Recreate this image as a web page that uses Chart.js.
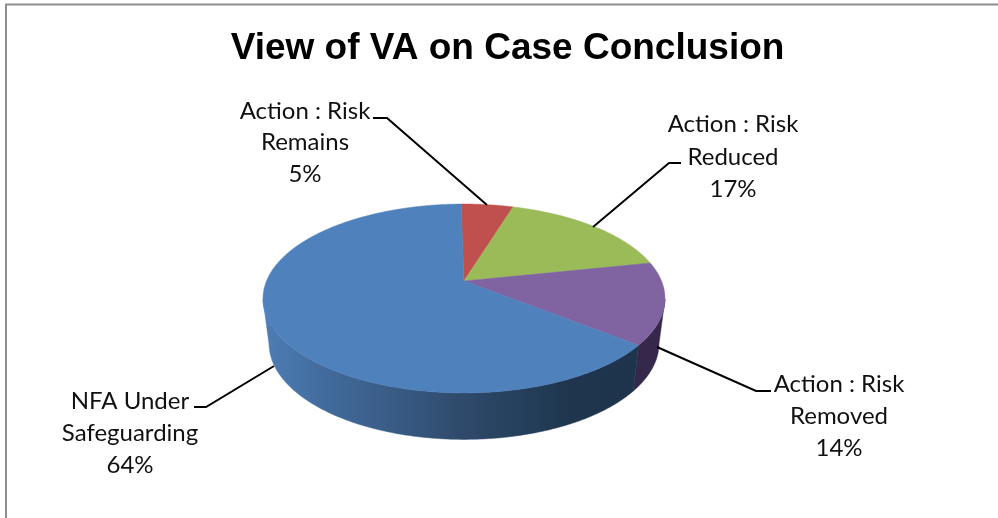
<!DOCTYPE html>
<html>
<head>
<meta charset="utf-8">
<title>View of VA on Case Conclusion</title>
<script src="https://cdn.jsdelivr.net/npm/chart.js@4"></script>
<style>html,body{margin:0;padding:0;background:#fff}canvas{display:block}</style>
</head>
<body>
<canvas id="c" width="998" height="518"></canvas>
<script>
const titleText = 'View of VA on Case Conclusion';
const categories = ['Action : Risk Remains', 'Action : Risk Reduced', 'Action : Risk Removed', 'NFA Under Safeguarding'];
const values = [5, 17, 14, 64];
const colors = ['#c0504d', '#9bbb59', '#8064a2', '#4f81bd'];
const wallColors = ['#7a302e', '#5d7235', '#35284a', null];
const labelLines = [['Action : Risk', 'Remains'], ['Action : Risk', 'Reduced'], ['Action : Risk', 'Removed'], ['NFA Under', 'Safeguarding']];

// Presentation only: label anchors and leader lines
const labelPos = [
  {x: 305, ys: [111, 142, 174], leader: [[373,118],[387,118],[487,205]]},
  {x: 733, ys: [124, 157, 189], leader: [[681,163],[669,163],[593,227]]},
  {x: 839, ys: [384, 416, 448], leader: [[771,391],[756,391],[657,347]]},
  {x: 130, ys: [401, 433, 465], leader: [[194,407],[206,407],[274,366]]}
];
// Perspective of the tilted disc
const persp = {k: -0.185, yRatio: 0.4618, cy: 299, rx: 201, ry: 94.5, depthCy: 344, wallRx: 195, wallRy: 96};

function project(el, a) {
  const u = Math.cos(a), v = Math.sin(a), d = 1 + persp.k * v, R = el.outerRadius;
  return {x: el.x + R * u / d, y: el.y + R * persp.yRatio * v / d};
}
class Arc3D extends Chart.ArcElement {
  static id = 'arc3d';
  static defaults = {...Chart.ArcElement.defaults};
  static defaultRoutes = Chart.ArcElement.defaultRoutes;
  draw(ctx) {
    const step = Math.PI / 720;
    ctx.save();
    ctx.beginPath();
    ctx.moveTo(this.x, this.y);
    for (let a = this.startAngle; a < this.endAngle; a += step) {
      const p = project(this, a);
      ctx.lineTo(p.x, p.y);
    }
    const e = project(this, this.endAngle);
    ctx.lineTo(e.x, e.y);
    ctx.closePath();
    ctx.fillStyle = this.options.backgroundColor;
    ctx.fill();
    ctx.strokeStyle = this.options.backgroundColor;
    ctx.lineWidth = 0.5;
    ctx.stroke();
    ctx.restore();
  }
}
class Pie3D extends Chart.PieController {
  static id = 'pie3d';
  static defaults = {...Chart.PieController.defaults, dataElementType: 'arc3d'};
}
Chart.register(Arc3D, Pie3D);

const deco = {
  id: 'deco',
  beforeDraw(chart) {
    const c = chart.ctx;
    c.save();
    c.fillStyle = '#fff';
    c.fillRect(0, 0, chart.width, chart.height);
    c.strokeStyle = '#8e8e8e';
    c.lineWidth = 2;
    c.beginPath();
    c.moveTo(6, 518);
    c.lineTo(6, 4.5);
    c.lineTo(998, 4.5);
    c.stroke();
    c.restore();
  },
  beforeDatasetsDraw(chart) {
    const c = chart.ctx, els = chart.getDatasetMeta(0).data;
    const cx = els[0].x;
    const grad = c.createLinearGradient(265, 0, 634, 0);
    grad.addColorStop(0, '#4d7db4');
    grad.addColorStop(0.18, '#41699a');
    grad.addColorStop(0.37, '#375a82');
    grad.addColorStop(0.53, '#2f4a6b');
    grad.addColorStop(0.69, '#25405c');
    grad.addColorStop(0.83, '#1f354e');
    grad.addColorStop(1, '#1e344c');
    els.forEach((el, i) => {
      const top = [], bot = [];
      const n = 600;
      for (let j = 0; j <= n; j++) {
        const a = el.startAngle + (el.endAngle - el.startAngle) * j / n;
        const p = project(el, a);
        const ct = (p.x - cx) / persp.rx, st = (p.y - persp.cy) / persp.ry;
        if (st >= 0) {
          top.push(p);
          bot.push({x: cx + ct * persp.wallRx, y: persp.depthCy + st * persp.wallRy});
        }
      }
      if (!top.length) return;
      c.save();
      c.beginPath();
      top.forEach((p, j) => j ? c.lineTo(p.x, p.y) : c.moveTo(p.x, p.y));
      bot.reverse().forEach(p => c.lineTo(p.x, p.y));
      c.closePath();
      c.fillStyle = wallColors[i] || grad;
      c.fill();
      c.strokeStyle = wallColors[i] || grad;
      c.lineWidth = 0.5;
      c.stroke();
      c.restore();
    });
  },
  afterDraw(chart) {
    const c = chart.ctx;
    const total = values.reduce((s, v) => s + v, 0);
    c.save();
    c.fillStyle = '#000';
    c.textAlign = 'center';
    c.textBaseline = 'middle';
    c.font = 'bold 37px "Liberation Sans", Arial, sans-serif';
    c.fillText(titleText, 507.5, 49);
    c.font = '24px Lato, sans-serif';
    c.fillStyle = '#111';
    labelPos.forEach((lp, i) => {
      const lines = [...labelLines[i], Math.round(values[i] / total * 100) + '%'];
      lines.forEach((t, j) => c.fillText(t, lp.x, lp.ys[j]));
      c.beginPath();
      lp.leader.forEach((p, j) => j ? c.lineTo(p[0], p[1]) : c.moveTo(p[0], p[1]));
      c.strokeStyle = '#000';
      c.lineWidth = 2;
      c.stroke();
    });
    c.restore();
  }
};

new Chart(document.getElementById('c'), {
  type: 'pie3d',
  data: {
    labels: categories,
    datasets: [{data: values, backgroundColor: colors, borderWidth: 0}]
  },
  options: {
    responsive: false,
    maintainAspectRatio: false,
    animation: false,
    rotation: -1,
    events: [],
    layout: {padding: {left: 266.5, right: 336.5, top: 83.5, bottom: 39.5}},
    plugins: {legend: {display: false}, title: {display: false}, tooltip: {enabled: false}}
  },
  plugins: [deco]
});
</script>
</body>
</html>
